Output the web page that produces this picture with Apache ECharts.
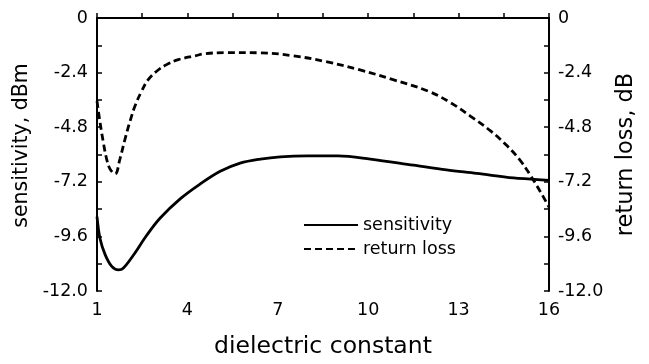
<!DOCTYPE html>
<html>
<head>
<meta charset="utf-8">
<script src="https://cdn.jsdelivr.net/npm/echarts@6/dist/echarts.min.js"></script>
<style>
  html, body { margin: 0; padding: 0; background: #fff; }
  #chart { width: 649px; height: 364px; }
</style>
</head>
<body>
<div id="chart"></div>
<script>
// values
const sensX = [1, 1.1, 1.27, 1.49, 1.71, 1.87, 2.21, 2.65, 3.09, 3.76, 4.42, 5.09, 5.75, 6.42, 7.08, 8.0, 9.0, 10.07, 11.5, 12.6, 13.6, 14.82, 15.39, 16];
const sensY = [-8.73, -9.69, -10.4, -10.92, -11.07, -11.0, -10.42, -9.55, -8.8, -7.95, -7.3, -6.74, -6.38, -6.2, -6.1, -6.06, -6.06, -6.2, -6.47, -6.68, -6.83, -7.03, -7.08, -7.14];

const rlX = [1, 1.1, 1.21, 1.32, 1.43, 1.6, 1.76, 1.93, 2.1, 2.26, 2.48, 2.7, 2.98, 3.31, 3.7, 4.26, 4.59, 5.3, 6.4, 7.5, 8.6, 9.7, 10.8, 12.0, 12.73, 13.39, 14.06, 14.61, 15.05, 15.39, 15.72, 16];
const rlY = [-3.65, -4.58, -5.46, -6.2, -6.63, -6.85, -6.2, -5.32, -4.52, -3.87, -3.22, -2.71, -2.34, -2.05, -1.83, -1.66, -1.57, -1.52, -1.53, -1.66, -1.92, -2.27, -2.7, -3.22, -3.72, -4.31, -4.96, -5.62, -6.27, -6.93, -7.65, -8.31];

const seriesNames = ['sensitivity', 'return loss'];

const chart = echarts.init(document.getElementById('chart'));
const font = 'DejaVu Sans, sans-serif';

// y tick labels look like 0, -2.4, ..., -12.0
const yFmt = v => (v === 0 ? '0' : v.toFixed(1));

const yAxisBase = {
  type: 'value',
  min: -12,
  max: 0,
  interval: 2.4,
  nameLocation: 'middle',
  axisLine: { show: true, lineStyle: { color: '#000', width: 2 } },
  axisTick: { show: true, inside: true, length: 5, lineStyle: { color: '#000', width: 1.5 } },
  minorTick: { show: true, splitNumber: 2, length: 5, lineStyle: { color: '#000', width: 1.5 } },
  axisLabel: { color: '#000', fontSize: 17.5, fontFamily: font, formatter: yFmt, margin: 9 },
  splitLine: { show: false }
};

chart.setOption({
  animation: false,
  grid: { left: 97, right: 100, top: 18, bottom: 72 },
  legend: {
    data: seriesNames,
    orient: 'vertical',
    left: 298,
    top: 211,
    itemWidth: 54,
    itemHeight: 14,
    itemGap: 6,
    itemStyle: { opacity: 0, color: 'rgba(0,0,0,0)', borderWidth: 0 },
    textStyle: { color: '#000', fontSize: 17.5, fontFamily: font }
  },
  xAxis: {
    type: 'value',
    min: 1,
    max: 16,
    interval: 3,
    name: 'dielectric constant',
    nameLocation: 'middle',
    nameGap: 44,
    nameTextStyle: { color: '#000', fontSize: 23.5, fontFamily: font },
    axisLine: { lineStyle: { color: '#000', width: 2 } },
    axisTick: { inside: true, length: 5, lineStyle: { color: '#000', width: 1.5 } },
    minorTick: { show: true, splitNumber: 2, length: 5, lineStyle: { color: '#000', width: 1.5 } },
    axisLabel: { color: '#000', fontSize: 17.5, fontFamily: font, margin: 10 },
    splitLine: { show: false }
  },
  yAxis: [
    Object.assign({}, yAxisBase, {
      name: 'sensitivity, dBm',
      position: 'left',
      nameGap: 56,
      nameTextStyle: { color: '#000', fontSize: 20.5, fontFamily: font, padding: [0, 0, 0, 18] }
    }),
    Object.assign({}, yAxisBase, {
      name: 'return loss, dB',
      position: 'right',
      nameGap: 56,
      nameTextStyle: { color: '#000', fontSize: 22.5, fontFamily: font }
    })
  ],
  series: [
    {
      name: seriesNames[0],
      type: 'line',
      yAxisIndex: 0,
      smooth: 0.35,
      symbol: 'none',
      lineStyle: { color: '#000', width: 2.8 },
      itemStyle: { color: '#000' },
      data: sensX.map((x, i) => [x, sensY[i]])
    },
    {
      name: seriesNames[1],
      type: 'line',
      yAxisIndex: 1,
      smooth: 0.4,
      symbol: 'none',
      lineStyle: { color: '#000', width: 2.8, type: [7, 4] },
      itemStyle: { color: '#000' },
      data: rlX.map((x, i) => [x, rlY[i]])
    }
  ]
});
</script>
</body>
</html>
